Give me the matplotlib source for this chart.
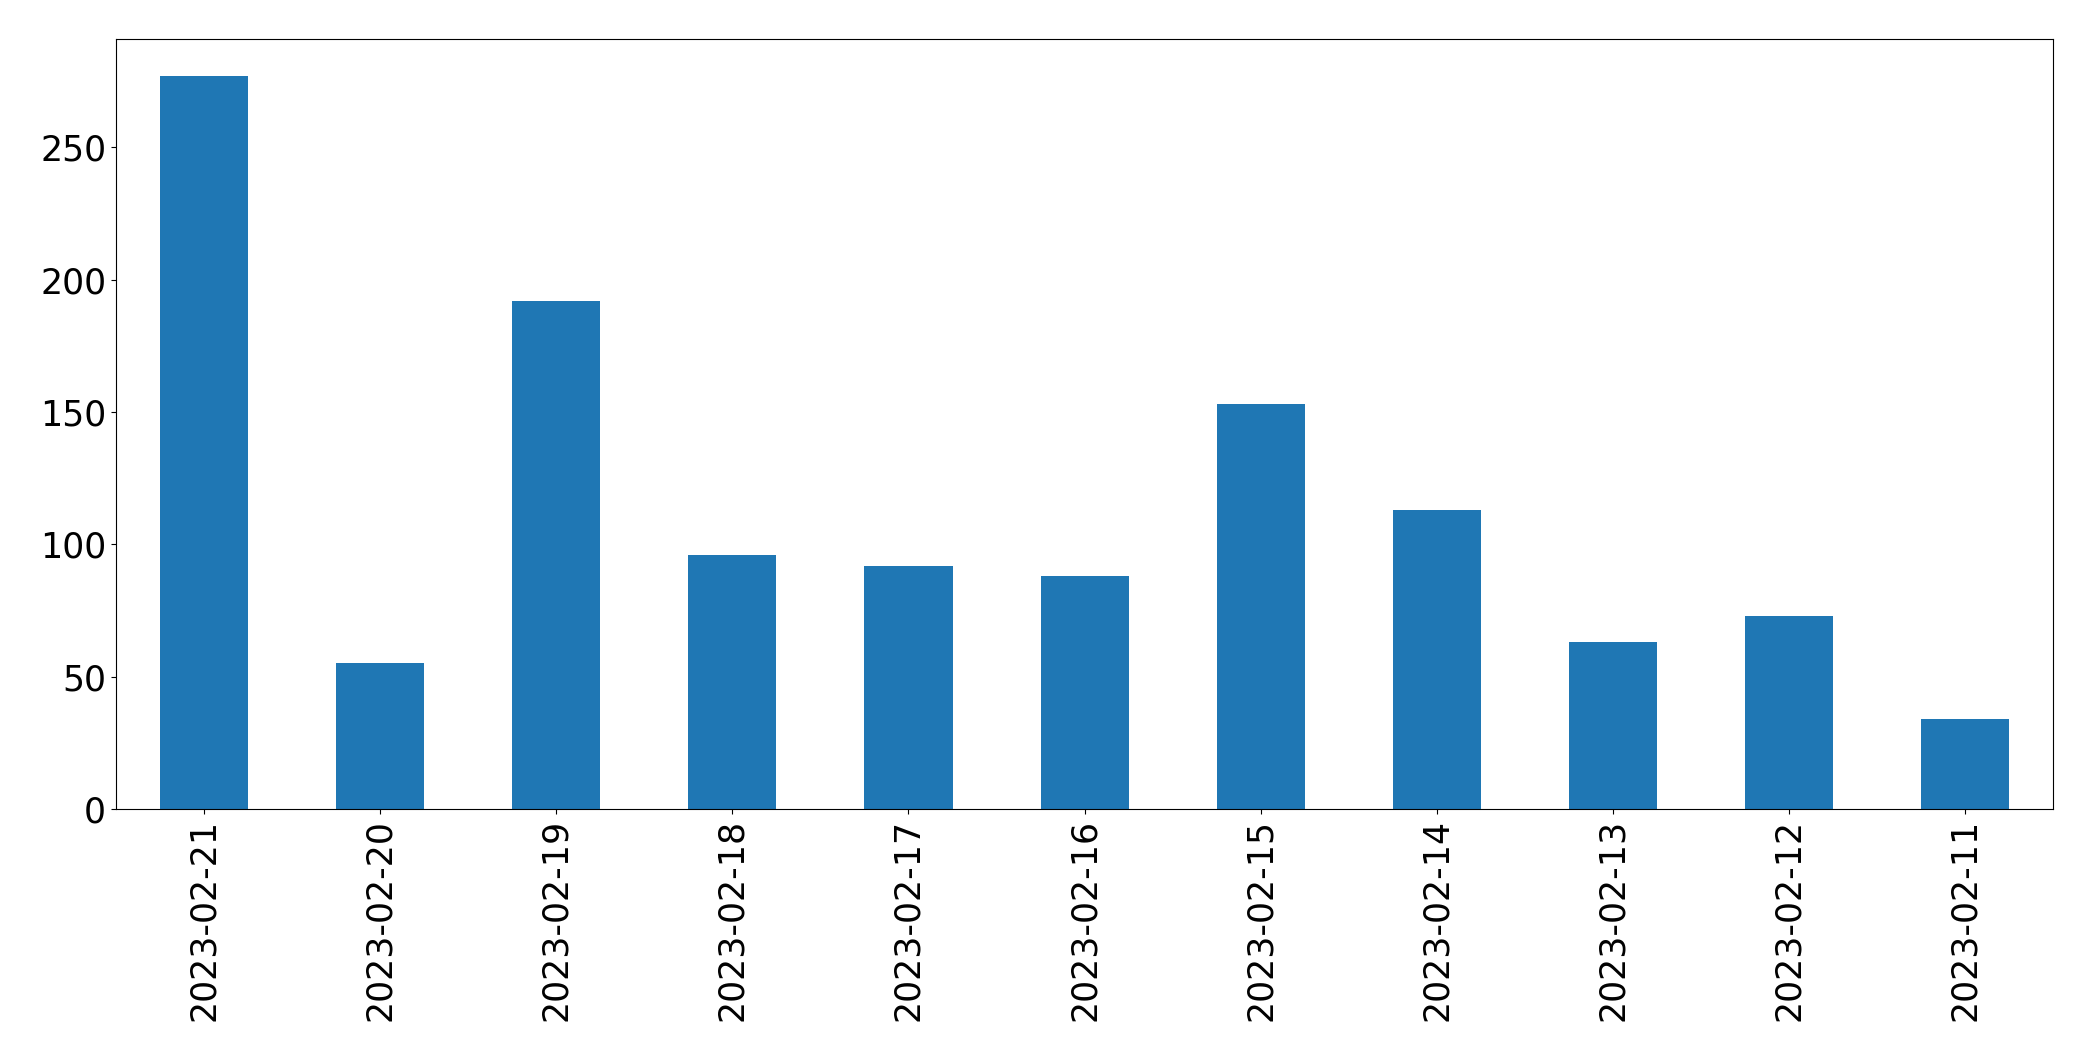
import matplotlib
matplotlib.use("Agg")
import matplotlib.pyplot as plt
import numpy as np

dates = ["2023-02-21", "2023-02-20", "2023-02-19", "2023-02-18", "2023-02-17",
         "2023-02-16", "2023-02-15", "2023-02-14", "2023-02-13", "2023-02-12",
         "2023-02-11"]
counts = [277, 55, 192, 96, 92, 88, 153, 113, 63, 73, 34]

fig, ax = plt.subplots(figsize=(20.93, 10.61), dpi=100)
x = np.arange(len(dates))
ax.bar(x, counts, width=0.5, color="#1f77b4")
ax.set_xlim(-0.5, len(dates) - 0.5)
ax.set_ylim(0, max(counts) * 1.05)
ax.set_xticks(x)
ax.set_xticklabels(dates, rotation=90)
ax.tick_params(labelsize=25)

plt.subplots_adjust(left=0.0554, right=0.981, bottom=0.2375, top=0.963)
plt.savefig("out.png", dpi=100)
